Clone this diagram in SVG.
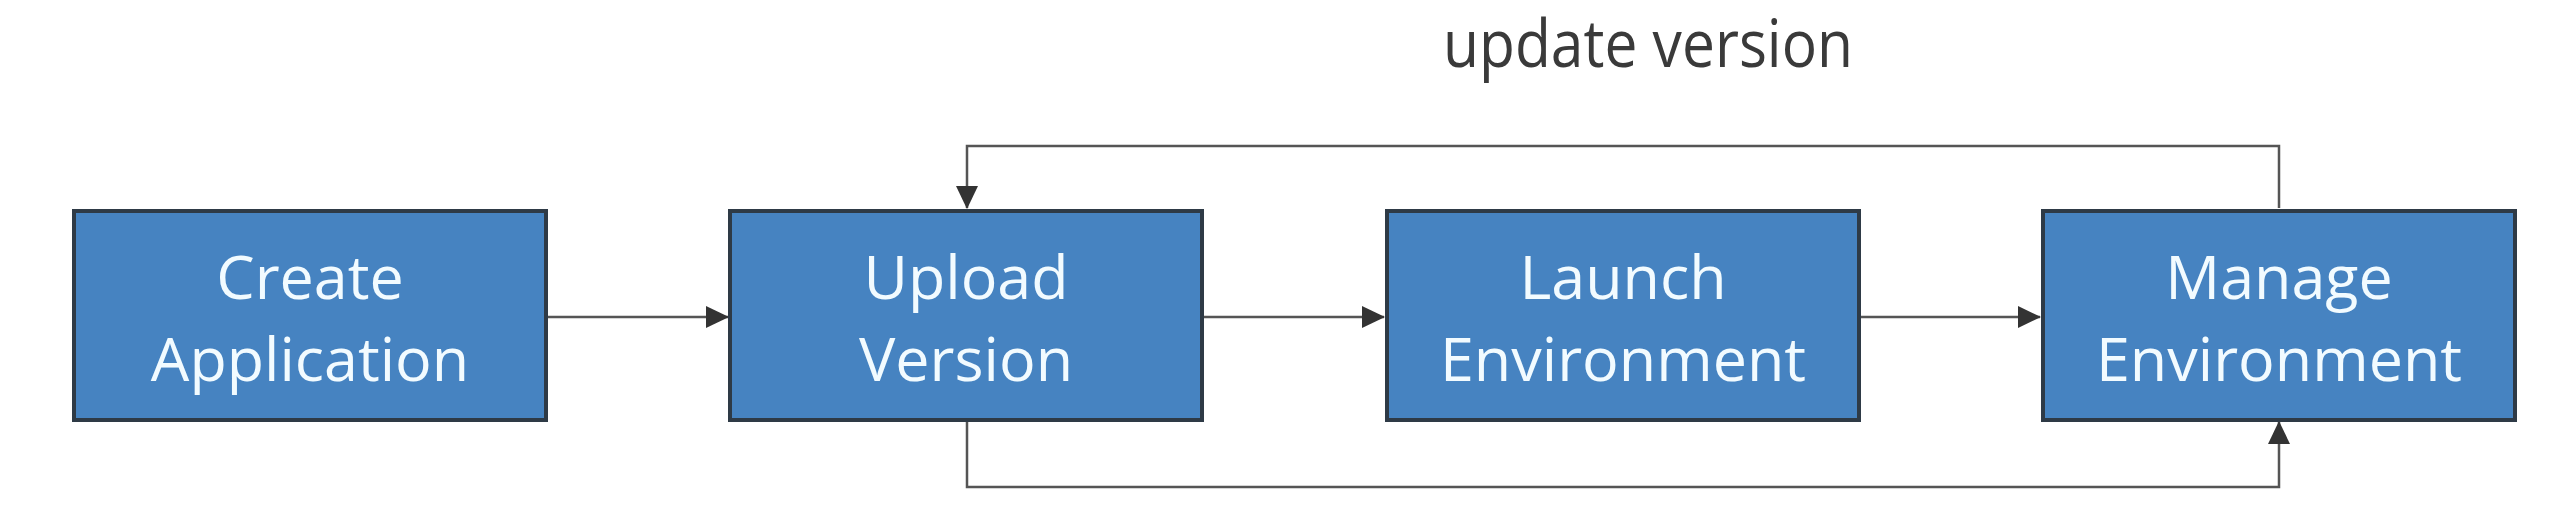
<svg xmlns="http://www.w3.org/2000/svg" width="2572" height="510" viewBox="0 0 2572 510">
<style>
.box{fill:#4683c1;stroke:#2e3a46;stroke-width:4}
.lbl{font-family:"Open Sans","Liberation Sans",sans-serif;font-size:61px;fill:#f2fbff;text-anchor:middle}
.title{font-family:"Open Sans","Liberation Sans",sans-serif;font-size:66px;fill:#3a3a3a;text-anchor:middle}
.con{fill:none;stroke:#555;stroke-width:2.5}
</style>
<defs>
<marker id="ah" markerUnits="userSpaceOnUse" markerWidth="24" markerHeight="24" viewBox="0 0 24 24" refX="22" refY="12" orient="auto">
<path d="M0,1 L23,12 L0,23 Z" fill="#333"/>
</marker>
</defs>
<rect width="2572" height="510" fill="#fff"/>
<text class="title" x="1648" y="67" textLength="410" lengthAdjust="spacingAndGlyphs">update version</text>
<g id="connectors">
<line class="con" x1="548" y1="317" x2="728" y2="317" marker-end="url(#ah)"/>
<line class="con" x1="1204" y1="317" x2="1384" y2="317" marker-end="url(#ah)"/>
<line class="con" x1="1861" y1="317" x2="2040" y2="317" marker-end="url(#ah)"/>
<polyline class="con" points="2279,208 2279,146 967,146 967,208" marker-end="url(#ah)"/>
<polyline class="con" points="967,422 967,487 2279,487 2279,422" marker-end="url(#ah)"/>
</g>
<g id="create-application">
<rect class="box" x="74" y="211" width="472" height="209"/>
<text class="lbl" x="310" y="299">Create</text>
<text class="lbl" x="310" y="381">Application</text>
</g>
<g id="upload-version">
<rect class="box" x="730" y="211" width="472" height="209"/>
<text class="lbl" x="966" y="299">Upload</text>
<text class="lbl" x="966" y="381">Version</text>
</g>
<g id="launch-environment">
<rect class="box" x="1387" y="211" width="472" height="209"/>
<text class="lbl" x="1623" y="299">Launch</text>
<text class="lbl" x="1623" y="381">Environment</text>
</g>
<g id="manage-environment">
<rect class="box" x="2043" y="211" width="472" height="209"/>
<text class="lbl" x="2279" y="299">Manage</text>
<text class="lbl" x="2279" y="381">Environment</text>
</g>
</svg>
